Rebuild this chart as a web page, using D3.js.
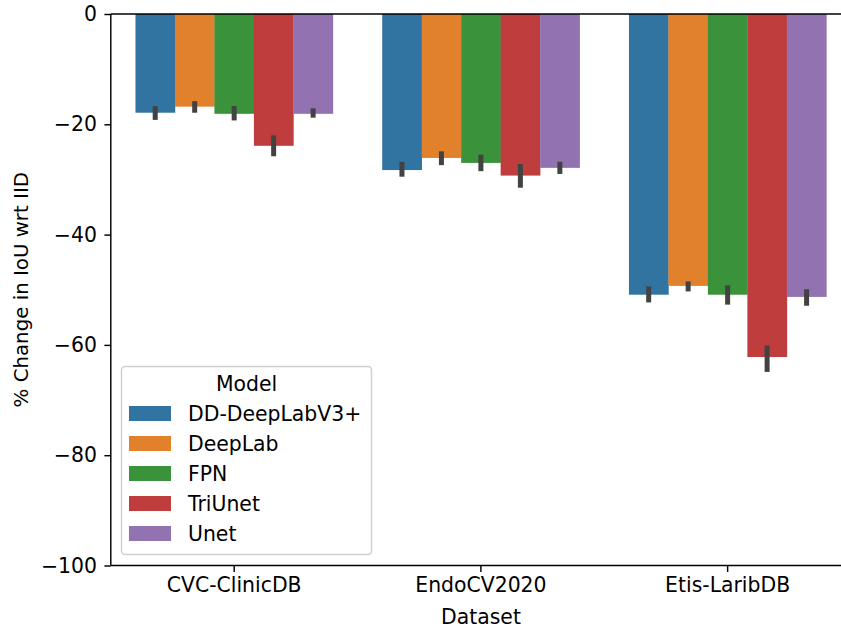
<!DOCTYPE html>
<html>
<head>
<meta charset="utf-8">
<script src="https://cdn.jsdelivr.net/npm/d3@7"></script>
<style>
  html, body { margin: 0; padding: 0; background: #fff; }
  svg text { font-family: "DejaVu Sans", sans-serif; fill: #000; }
</style>
</head>
<body>
<svg id="chart" width="841" height="628"></svg>
<script>
// Datasets on the x axis and models in the legend
const datasets = ["CVC-ClinicDB", "EndoCV2020", "Etis-LaribDB"];
const models = ["DD-DeepLabV3+", "DeepLab", "FPN", "TriUnet", "Unet"];
const colors = ["#3274a1", "#e1812c", "#3a923a", "#c03d3e", "#9372b2"];

// Mean % change in IoU per dataset (rows) and model (columns)
const meanChange = [
  [-17.9, -16.8, -18.1, -23.9, -18.1],
  [-28.3, -26.1, -27.0, -29.3, -27.9],
  [-50.9, -49.3, -50.9, -62.2, -51.3]
];
// Confidence interval bounds (upper, lower)
const ciUpper = [
  [-16.7, -15.8, -16.7, -22.0, -17.1],
  [-26.8, -24.9, -25.5, -27.2, -26.8],
  [-49.4, -48.5, -49.2, -60.1, -49.9]
];
const ciLower = [
  [-19.2, -17.9, -19.3, -25.8, -18.8],
  [-29.5, -27.4, -28.5, -31.5, -29.0],
  [-52.3, -50.3, -52.7, -64.9, -52.9]
];
const yTicks = [0, -20, -40, -60, -80, -100];

const FONT = "20.4px";
const svg = d3.select("#chart");
const mLeft = 110.8, mRight = 851, mTop = 14, mBottom = 565.5;

const x = d3.scaleBand().domain(datasets).range([mLeft, mRight]).paddingInner(0).paddingOuter(0);
const xm = d3.scaleBand().domain(models).range([0, x.bandwidth() * 0.8]);
const y = d3.scaleLinear().domain([-100, 0]).range([mBottom, mTop]);

const rows = [];
datasets.forEach((ds, i) => models.forEach((m, j) => rows.push({
  ds, m, j, v: meanChange[i][j], hi: ciUpper[i][j], lo: ciLower[i][j]
})));

const groupOffset = x.bandwidth() * 0.1;

// Bars
svg.append("g").selectAll("rect").data(rows).join("rect")
  .attr("x", d => x(d.ds) + groupOffset + xm(d.m))
  .attr("y", y(0))
  .attr("width", xm.bandwidth() + 0.3)
  .attr("height", d => y(d.v) - y(0))
  .attr("fill", d => colors[d.j]);

// Error bars
svg.append("g").selectAll("line").data(rows).join("line")
  .attr("x1", d => x(d.ds) + groupOffset + xm(d.m) + xm.bandwidth() / 2)
  .attr("x2", d => x(d.ds) + groupOffset + xm(d.m) + xm.bandwidth() / 2)
  .attr("y1", d => y(d.hi))
  .attr("y2", d => y(d.lo))
  .attr("stroke", "#424242")
  .attr("stroke-width", 5);

// Y axis
const yAxis = svg.append("g")
  .attr("transform", `translate(${mLeft},0)`)
  .call(d3.axisLeft(y).tickValues(yTicks).tickSize(6.4).tickPadding(7.5)
    .tickFormat(d => d3.format("d")(d).replace("-", "\u2212")));
yAxis.selectAll("text").style("font-size", FONT).style("font-family", "DejaVu Sans");
yAxis.selectAll("line").attr("stroke", "#000").attr("stroke-width", 1.45);
yAxis.select(".domain").remove();

// X axis
const xAxis = svg.append("g")
  .attr("transform", `translate(0,${mBottom})`)
  .call(d3.axisBottom(x).tickSize(6.4).tickPadding(6));
xAxis.selectAll("text").style("font-size", FONT).style("font-family", "DejaVu Sans");
xAxis.selectAll("line").attr("stroke", "#000").attr("stroke-width", 1.45);
xAxis.select(".domain").remove();

// Spines
const spine = (x1, y1, x2, y2) => svg.append("line")
  .attr("x1", x1).attr("y1", y1).attr("x2", x2).attr("y2", y2)
  .attr("stroke", "#000").attr("stroke-width", 1.45);
spine(mLeft, mTop, mLeft, mBottom);
spine(mLeft, mTop, mRight, mTop);
spine(mLeft, mBottom, mRight, mBottom);
spine(mRight, mTop, mRight, mBottom);

// Axis titles
svg.append("text").attr("x", 481).attr("y", 624)
  .attr("text-anchor", "middle").style("font-size", FONT).text("Dataset");
svg.append("text")
  .attr("transform", `translate(28,${(mTop + mBottom) / 2}) rotate(-90)`)
  .attr("text-anchor", "middle").style("font-size", "19.8px").text("% Change in IoU wrt IID");

// Legend
const lg = svg.append("g");
lg.append("rect").attr("x", 121.5).attr("y", 366.5).attr("width", 250).attr("height", 188)
  .attr("rx", 3.5).attr("fill", "#fff").attr("fill-opacity", 0.8)
  .attr("stroke", "#d0d0d0").attr("stroke-width", 1.45);
lg.append("text").attr("x", 246.5).attr("y", 390.5).attr("text-anchor", "middle")
  .style("font-size", FONT).text("Model");
models.forEach((m, j) => {
  const cy = 413.5 + j * 30;
  lg.append("rect").attr("x", 129).attr("y", cy - 7.5).attr("width", 42).attr("height", 15)
    .attr("fill", colors[j]);
  lg.append("text").attr("x", 188).attr("y", cy + 7).style("font-size", FONT).text(m);
});
</script>
</body>
</html>
